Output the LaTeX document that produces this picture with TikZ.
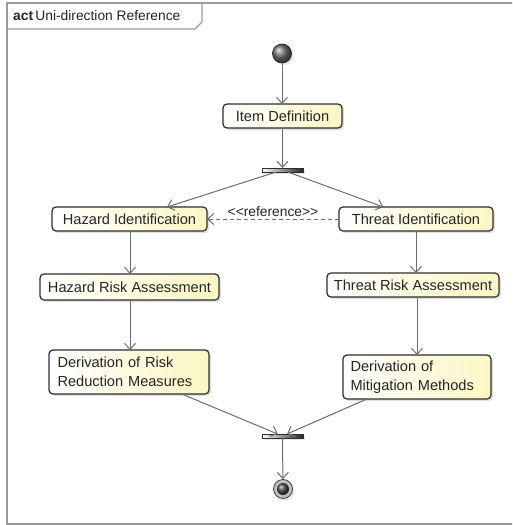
\documentclass[tikz,border=0pt]{standalone}
\usepackage{fontspec}
\setmainfont{Liberation Sans}
\usetikzlibrary{arrows.meta,shadows,calc}
\definecolor{edgegray}{HTML}{6E6E6E}
\definecolor{boxline}{HTML}{2E2E2E}
\definecolor{boxfill}{HTML}{FAF6C4}
\definecolor{textdark}{HTML}{262626}
\definecolor{framegray}{HTML}{9A9A9A}
\tikzset{
  actbox/.style={draw=boxline, line width=1.2pt, rounded corners=4pt,
    left color=white, right color=boxfill, text=textdark,
    font=\fontsize{14.6}{19}\selectfont, inner sep=0pt, outer sep=0pt,
    drop shadow={shadow xshift=2pt, shadow yshift=-2pt, opacity=0.25, fill=gray}},
  flow/.style={draw=edgegray, line width=1pt,
    -{Straight Barb[length=6pt,width=11pt,line width=1pt]}},
  bar/.style={draw=boxline, line width=0.6pt, left color=white, right color=black!85,
    minimum width=41pt, minimum height=4pt, inner sep=0pt, outer sep=0pt,
    drop shadow={shadow xshift=1.5pt, shadow yshift=-1.5pt, opacity=0.2, fill=gray}},
}
\begin{document}
\begin{tikzpicture}[x=1pt,y=-1pt]
\useasboundingbox (0,0) rectangle (512,525);
\fill[white] (0,0) rectangle (512,525);

% diagram frame with its name tab
\begin{scope}
\clip (0,0) rectangle (512,525);
\draw[framegray, line width=1.3pt] (7,3) rectangle (516,524);
\draw[framegray, line width=1.3pt] (7,29) -- (195,29) -- (202,22) -- (202,3);
\end{scope}
\node[anchor=west, text=textdark, font=\fontsize{13.8}{16}\selectfont, inner sep=0pt]
  (title) at (13,16) {\textbf{act}\,Uni-direction Reference};

% start and end points
\node[circle, minimum size=19pt, inner sep=0pt, draw=black!85, line width=0.7pt,
  ball color=black!55, drop shadow={shadow xshift=2pt, shadow yshift=-2pt, opacity=0.2, fill=gray}]
  (start) at (282,53.5) {};
\node[circle, minimum size=19pt, inner sep=0pt, draw=black!75, line width=0.8pt,
  fill=black!25, drop shadow={shadow xshift=2pt, shadow yshift=-2pt, opacity=0.2, fill=gray}]
  (stop) at (283,489) {};
\shade[ball color=black!70] (stop.center) circle (6pt);

% actions
\node[actbox, minimum width=119pt, minimum height=24pt] (item) at (282.5,116) {Item Definition};
\node[bar] (fork) at (282.5,170) {};
\node[actbox, minimum width=155pt, minimum height=24pt] (hid) at (129.5,219) {Hazard Identification};
\node[actbox, minimum width=154pt, minimum height=24pt] (tid) at (416,219) {Threat Identification};
\node[actbox, minimum width=179pt, minimum height=26pt] (hra) at (129.5,287) {Hazard Risk Assessment};
\node[actbox, minimum width=172pt, minimum height=24pt] (tra) at (413,285) {Threat Risk Assessment};
\node[actbox, minimum width=160pt, minimum height=44pt, align=left, text width=143pt]
  (drr) at (129,372) {Derivation of Risk\\Reduction Measures};
\node[actbox, minimum width=148pt, minimum height=44pt, align=left, text width=133pt]
  (dmm) at (417,377) {Derivation of\\Mitigation Methods};
\node[bar] (join) at (282.5,436) {};

% control flows
\draw[flow] (start) -- (item.north -| start);
\draw[flow] (item) -- (fork);
\draw[flow] (fork) -- (hid);
\draw[flow] (fork) -- (tid);
\draw[flow] (hid.south -| 130,0) -- (hra.north -| 130,0);
\draw[flow] (tid.south -| 416,0) -- (tra.north -| 416,0);
\draw[flow] (hra.south -| 130,0) -- (drr.north -| 130,0);
\draw[flow] (tra.south -| 417,0) -- (dmm.north -| 417,0);
\draw[flow] (drr) -- (join);
\draw[flow] (dmm) -- (join);
\draw[flow] (join) -- (stop);

% dependency between the two identification steps
\draw[flow, dashed, dash pattern=on 4pt off 3pt] (tid.west) -- node[above=1pt, text=textdark,
  font=\fontsize{13.8}{16}\selectfont, inner sep=1pt] (ref) {<{}<reference>{}>} (hid.east);
\end{tikzpicture}
\end{document}
